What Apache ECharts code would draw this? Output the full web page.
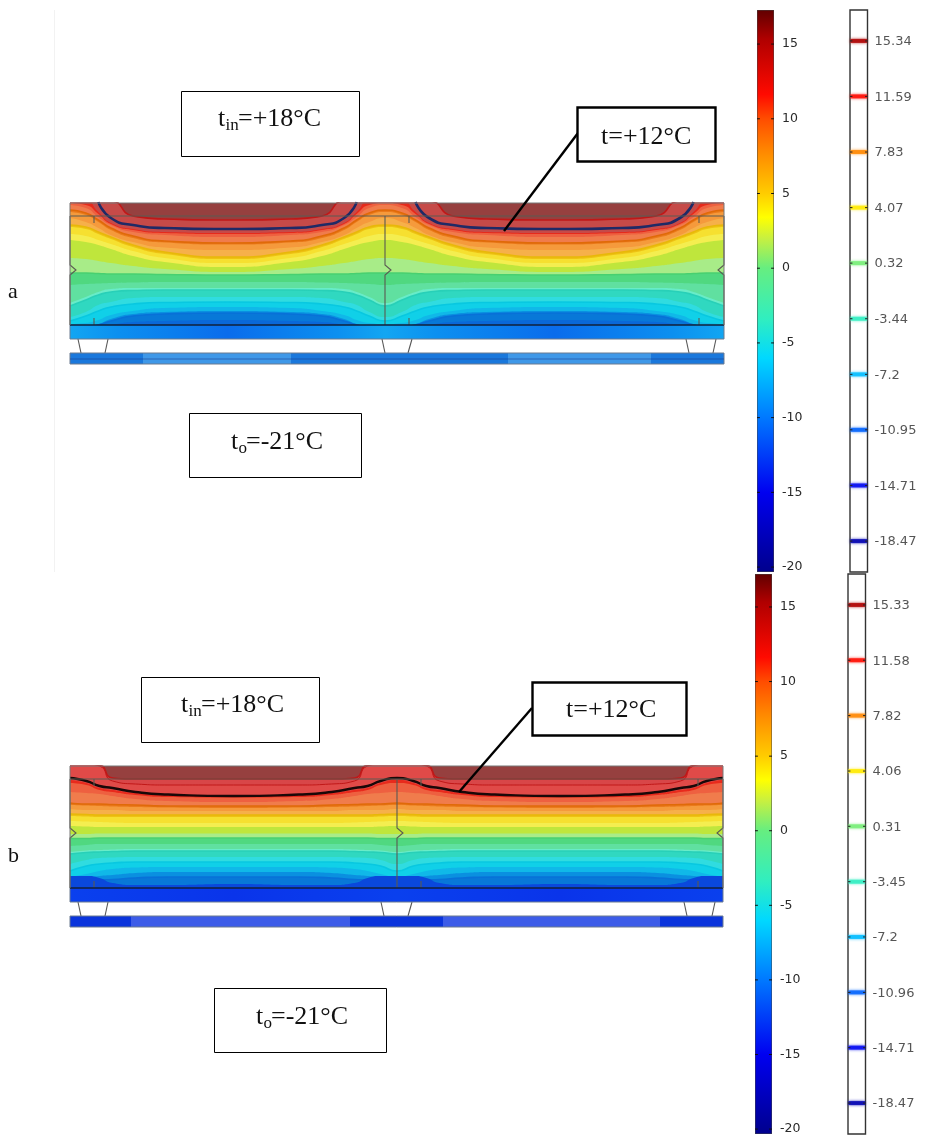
<!DOCTYPE html>
<html><head><meta charset="utf-8">
<style>html,body{margin:0;padding:0;background:#fff}#c,#n{width:926px;height:1137px;position:absolute;left:0;top:0}#c{filter:blur(0.7px)}</style>
<script src="https://cdn.jsdelivr.net/npm/echarts@6/dist/echarts.min.js"></script>
</head><body><div id="c"></div><div id="n"></div>
<script>
// ---- data ----
var stations = [0, .05, .09, .13, .2, .3, .5];
var modulesA = [0, 315, 654];
var modulesB = [0, 327, 653];
var levelFill = ['#c64a48','#e62a1c','#ee6040','#f07c4c','#ea7a1c','#f59a3c','#f6b04a','#eec214','#f6e030','#f4ee50','#bfe63c','#a8ec88','#50d880','#60e0a0','#68ecc8','#30d8c0','#30dce0','#10d0e8','#10b8e8','#0a90e0','#0878d8','#0a68d8'];
var levelStroke = ['#c01818',null,null,null,'#e06a08',null,null,'#e8b808',null,null,null,null,'#48d070',null,null,'#28d0b8',null,'#08c8e0',null,null,'#0870d8',null];
var depthsA = [
 [-2,-2,-2,-2,13,16,17],[-2,-2,9,20,26,29,30],[0,2,11,21,27,30,31],[2,5,14,22,29,32,34],
 [7,10,17,25,33,38,40],[9,12,19,27,35,39.5,41.5],[15,19,25,32,39,44.5,47],[22,24,29,34,42,49,54],
 [24,26,31,36,44,51,56],[31,33,37,41,48,55,60],[37,39,42,46,53,59,64],[55,56,58,60,63,66,69],
 [70,70,70.5,71,71,71.5,72],[82,81,80.5,80,79.5,79,79],[100,94,89,86,85,85,85],[103,97,92,89,87.5,87,87],
 [114,109,102,99,95,94,94],[118,113,108,104,101,99.5,99],[121,120,117,112,108,105,104],[123,123,121,116,111,109,108],
 [124,124,122,118,113,111,110],[124,124,124,122,119,118,117]];
var depthsB = [
 [-2,-2,-1,12,13,13,13],[14,17,22,24,27,29,30],[17,19,24,26,29,31,31.5],[26,27,28,30,33,35,36],
 [37,38,38,38.5,39,40,40],[39,39.5,40,40.5,41,41.5,42],[43,44,44,44,45,45,45],[48,48.5,49,49,49,49,49],
 [50,50.5,51,51,51,51,51],[55,55.5,56,56.5,57,57,57],[60,60.5,61,61,61,61,61],[68,68,67.5,67.5,67.5,67.5,67.5],
 [72.5,72.5,72,72,72,72,72],[80,79,78,78,78,78,78],[86,84.5,84,83.5,83,83,83],[88,86.5,86,85.5,85,85,85],
 [98,94,92,91.5,91,91,91],[105,100,98,97,96,96,96],[111,108,105,103,101.5,101,101],[114,112,110,109,107,106,106],
 [116,115,114,113.5,112,111,111],[110,110,112,117,119,119,118]];
var levelFillB = levelFill.slice();
levelFillB[0]='#d84648'; levelFillB[1]='#e82a1c'; levelFillB[21]='#0a48dc';
var redLayerB = [-2,-2,0,15,18,19,19];
var isothermA = [null,null,-1,15,22,25,26];
var isothermB = [12,15,20,22,26,28.5,30];
var colorbarTicks = [15,10,5,0,-5,-10,-15,-20];
var contourA = ['15.34','11.59','7.83','4.07','0.32','-3.44','-7.2','-10.95','-14.71','-18.47'];
var contourB = ['15.33','11.58','7.82','4.06','0.31','-3.45','-7.2','-10.96','-14.71','-18.47'];
var jetStops = [[-20.4,'#00008c'],[-15,'#0000f0'],[-10,'#0078ff'],[-6,'#00d8ff'],[-3.4,'#30eec0'],[0,'#66ee80'],[2,'#c8f040'],[3.4,'#ffff00'],[5,'#ffcc00'],[7.8,'#ff8800'],[10,'#ff4c00'],[11.6,'#ff0a00'],[15.3,'#b00000'],[17.4,'#600000']];
var cladLightA = [[73,221],[438,581]];
var cladLightB = [[61,280],[373,590]];
var plateStopsA = [[0,'#12a6f2'],[.15,'#0c90f0'],[.5,'#0a6cec'],[.85,'#0c90f0'],[1,'#12a6f2']];
var plateStopsB = [[0,'#0a40ee'],[.5,'#0a34ea'],[1,'#0a40ee']];
var supportsA = [[8,11,38,35],[312,315,342,338],[616,619,646,643]];
var supportsB = [[8,11,38,35],[311,314,342,338],[614,617,645,642]];
var ticksA = [24,339,629];
var ticksB = [24,351,628];

// ---- helpers ----
function hex(c){return [1,3,5].map(function(i){return parseInt(c.substr(i,2),16)})}
function jet(v){
  for(var i=1;i<jetStops.length;i++){ if(v<=jetStops[i][0]){
    var a=jetStops[i-1],b=jetStops[i],t=(v-a[0])/(b[0]-a[0]),p=hex(a[1]),q=hex(b[1]);
    return 'rgb('+p.map(function(x,k){return Math.round(x+(q[k]-x)*t)}).join(',')+')';}}
  return jetStops[jetStops.length-1][1];
}
function profile(half,edges){
  var pts=[];
  for(var m=0;m<edges.length-1;m++){
    var w=edges[m+1]-edges[m];
    for(var i=(m?1:0);i<half.length;i++) pts.push([edges[m]+w*stations[i],half[i]]);
    for(i=half.length-2;i>=0;i--) pts.push([edges[m]+w*(1-stations[i]),half[i]]);
  }
  return pts;
}
var grids=[],xAxes=[],yAxes=[],series=[];
function addGrid(l,t,w,h,xmin,xmax,ymin,ymax,inv,extra){
  grids.push(Object.assign({left:l,top:t,width:w,height:h,containLabel:false,show:false},extra||{}));
  xAxes.push({type:'value',gridIndex:grids.length-1,min:xmin,max:xmax,show:false});
  yAxes.push({type:'value',gridIndex:grids.length-1,min:ymin,max:ymax,inverse:!!inv,show:false});
  return grids.length-1;
}
function polylines(gi,yi,lines,color,width,z){
  series.push({type:'custom',xAxisIndex:gi,yAxisIndex:yi,silent:true,clip:false,z:z||5,
    data:lines.map(function(_,i){return [i,0]}),
    encode:{x:0,y:1},
    renderItem:function(p,api){
      var pts=lines[p.dataIndex].map(function(q){return api.coord(q)});
      return {type:'polyline',shape:{points:pts},style:{fill:null,stroke:color,lineWidth:width}};
    }});
}
var SMOOTH=.6;
function panel(px,top,width,edges,depths,fills,extraLayer,iso,isoColor,isoW,plateStops,cladBase,cladLight,cladLightList,supports,tickXs,cladLine){
  var gw=addGrid(px,top,width,122,0,width,0,122,true,{show:true,backgroundColor:'#96403f',borderWidth:0});
  depths.forEach(function(d,i){
    series.push({type:'line',xAxisIndex:gw,yAxisIndex:gw,data:profile(d,edges),smooth:SMOOTH,symbol:'none',silent:true,z:2+i*0.01,
      lineStyle:levelStroke[i]?{color:levelStroke[i],width:1.6}:{width:0},areaStyle:{origin:'end',color:fills[i],opacity:1}});
    if(extraLayer&&i===0) series.push({type:'line',xAxisIndex:gw,yAxisIndex:gw,data:profile(extraLayer,edges),smooth:SMOOTH,symbol:'none',silent:true,z:2.005,
      lineStyle:{color:'#c01818',width:1},areaStyle:{origin:'end',color:'#e04a48',opacity:1}});
  });
  series.push({type:'line',xAxisIndex:gw,yAxisIndex:gw,data:profile(iso,edges),connectNulls:false,clip:false,smooth:SMOOTH,symbol:'none',silent:true,z:4,lineStyle:{color:isoColor,width:isoW}});
  var w=width;
  var struct=[[[0,13],[w,13]]];
  edges.forEach(function(e,i){
    var dir=i===edges.length-1?-1:1;
    struct.push([[e,13],[e,62],[e+6*dir,67],[e,72],[e,122]]);
  });
  tickXs.forEach(function(x){struct.push([[x,13],[x,20]]);struct.push([[x,115],[x,122]]);});
  polylines(gw,gw,struct,'#5a5a52',1.1,5);
  polylines(gw,gw,[[[0,122],[w,122]]],'#12203a',1.6,6);
  polylines(gw,gw,[[[0,0],[w,0]],[[0,0],[0,122]],[[w,0],[w,122]]],'#777',1,6);
  var gl=addGrid(px,top+122,width,40,0,width,122,162,true);
  series.push({type:'custom',xAxisIndex:gl,yAxisIndex:gl,silent:true,clip:false,z:3,data:edges.slice(1).map(function(e,i){return [edges[i],e]}),encode:{x:[0,1]},
    renderItem:function(p,api){
      var a=api.coord([api.value(0),122]),b=api.coord([api.value(1),136]);
      return {type:'rect',shape:{x:a[0],y:a[1],width:b[0]-a[0],height:b[1]-a[1]},
        style:{fill:new echarts.graphic.LinearGradient(0,0,1,0,plateStops.map(function(s){return {offset:s[0],color:s[1]}})),stroke:null}};
    }});
  series.push({type:'custom',xAxisIndex:gl,yAxisIndex:gl,silent:true,clip:false,z:3,data:[[0,width,0]].concat(cladLightList.map(function(c){return [c[0],c[1],1]})),encode:{x:[0,1]},
    renderItem:function(p,api){
      var a=api.coord([api.value(0),150]),b=api.coord([api.value(1),161]);
      return {type:'rect',shape:{x:a[0],y:a[1],width:b[0]-a[0],height:b[1]-a[1]},style:{fill:api.value(2)?cladLight:cladBase,stroke:null}};
    }});
  var sup=[];
  supports.forEach(function(s){sup.push([[s[0],136],[s[1],150]]);sup.push([[s[2],136],[s[3],150]]);});
  polylines(gl,gl,sup,'#555',1.1,5);
  polylines(gl,gl,[[[0,136],[w,136]],[[0,136],[0,122]],[[w,136],[w,122]],[[0,150],[w,150],[w,161],[0,161],[0,150]]],'#6a7a90',1,5);
  if(cladLine) polylines(gl,gl,[[[0,156],[w,156]]],cladLine,1,5);
}
panel(70,203,654,modulesA,depthsA,levelFill,null,isothermA,'#1f2a66',2.6,plateStopsA,'#1a78dc','#3f98e8',cladLightA,supportsA,ticksA,'rgba(30,60,140,.55)');
panel(70,766,653,modulesB,depthsB,levelFillB,redLayerB,isothermB,'#1a0808',2.4,plateStopsB,'#0a34dc','#3c5ce8',cladLightB,supportsB,ticksB,null);

function colorbar(l,t,h,ymin,ymax){
  var i=grids.length;
  grids.push({left:l,top:t,width:17,height:h,show:false});
  xAxes.push({type:'value',gridIndex:i,min:0,max:1,show:false});
  yAxes.push({type:'value',gridIndex:i,min:ymin,max:ymax,position:'right',splitLine:{show:false},
    axisLine:{show:false},axisTick:{show:false},
    axisLabel:{show:true,customValues:colorbarTicks,margin:8,color:'#2a2a2a',fontFamily:'DejaVu Sans',fontSize:12.5}});
  var yi=yAxes.length-1;
  series.push({type:'custom',xAxisIndex:i,yAxisIndex:yi,silent:true,clip:true,z:2,data:[[0,1,ymin,ymax]],encode:{x:[0,1],y:[2,3]},
    renderItem:function(p,api){
      var a=api.coord([0,ymax]),b=api.coord([1,ymin]);
      return {type:'rect',shape:{x:a[0],y:a[1],width:b[0]-a[0],height:b[1]-a[1]},
        style:{stroke:'#444',lineWidth:1,fill:new echarts.graphic.LinearGradient(0,1,0,0,jetStops.map(function(s){return {offset:Math.max(0,Math.min(1,(s[0]-ymin)/(ymax-ymin))),color:s[1]}}))}};
    }});
  var t2=[];
  colorbarTicks.forEach(function(v){t2.push([[0,v],[.17,v]]);t2.push([[.83,v],[1,v]]);});
  polylines(i,yi,t2,'#111',1,4);
}
function contourKey(l,t,h,ymin,ymax,labels){
  var i=grids.length, vals=labels.map(Number);
  grids.push({left:l,top:t,width:17.5,height:h,show:true,backgroundColor:'#fff',borderColor:'#333',borderWidth:1.4});
  xAxes.push({type:'value',gridIndex:i,min:0,max:1,show:false});
  yAxes.push({type:'value',gridIndex:i,min:ymin,max:ymax,show:false});
  var yi=yAxes.length-1;
  series.push({type:'scatter',xAxisIndex:i,yAxisIndex:yi,silent:true,z:3,symbol:'rect',symbolSize:[16.5,4],
    data:labels.map(function(s,k){return {value:[.5,vals[k]],itemStyle:{color:jet(vals[k]),shadowBlur:3,shadowColor:jet(vals[k])},
      label:{show:true,position:'right',distance:7.5,offset:[0,1],formatter:s,color:'#2a2a2a',fontFamily:'DejaVu Sans',fontSize:13}}})});
  var t2=[];
  vals.forEach(function(v){t2.push([[0,v],[.14,v]]);t2.push([[.86,v],[1,v]]);});
  polylines(i,yi,t2,'#222',1,4);
}
colorbar(757,10,562,-20.33,17.28);
contourKey(850,10,562,-20.56,17.43,contourA);
colorbar(755,574,560,-20.33,17.21);
contourKey(848,574,560,-20.57,17.43,contourB);

// ---- annotations ----
var serif='"Liberation Serif","Times New Roman",serif';
function box(x,y,w,h,lw){return {type:'rect',z:20,shape:{x:x,y:y,width:w,height:h},style:{fill:'#fff',stroke:'#000',lineWidth:lw}}}
function txt(x,base,s,size){size=size||26;return {type:'text',z:21,x:x,y:base-0.34*size,style:{text:s,fill:'#111',font:size+'px '+serif,verticalAlign:'middle'}}}
var graphics=[
 {type:'line',z:1,shape:{x1:54.5,y1:10,x2:54.5,y2:572},style:{stroke:'#f2f2f2',lineWidth:1}},
 {type:'line',z:19,shape:{x1:578,y1:133,x2:504,y2:231},style:{stroke:'#000',lineWidth:2.4}},
 {type:'line',z:19,shape:{x1:532,y1:708,x2:459,y2:792},style:{stroke:'#000',lineWidth:2.4}},
 box(181.5,91.5,178,65,1), txt(218,128,'t'), txt(225.5,131,'in',17), txt(238,128,'=+18°C'),
 box(189.5,413.5,172,64,1), txt(231,451,'t'), txt(238.5,454,'o',17), txt(246,451,'=-21°C'),
 box(577.5,107.5,138,54,2.4), txt(601,146,'t=+12°C'),
 box(141.5,677.5,178,65,1), txt(181,714,'t'), txt(188.5,717,'in',17), txt(201,714,'=+18°C'),
 box(214.5,988.5,172,64,1), txt(256,1026,'t'), txt(263.5,1029,'o',17), txt(271,1026,'=-21°C'),
 box(532.5,682.5,154,53,2.4), txt(566,719,'t=+12°C'),
 txt(8,300,'a',22), txt(8,864,'b',22)
];
var chart=echarts.init(document.getElementById('c'),null,{renderer:'canvas'});
chart.setOption({animation:false,backgroundColor:'#fff',tooltip:{show:false},grid:grids,xAxis:xAxes,yAxis:yAxes,series:series});
var note=echarts.init(document.getElementById('n'),null,{renderer:'canvas'});
note.setOption({animation:false,backgroundColor:'transparent',graphic:{elements:graphics}});
</script></body></html>
